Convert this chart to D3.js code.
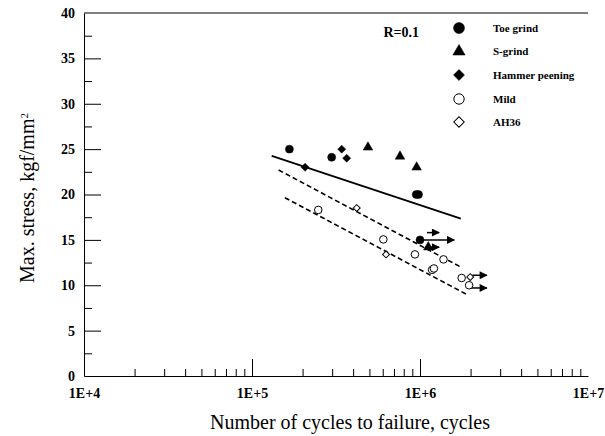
<!DOCTYPE html>
<html>
<head>
<meta charset="utf-8">
<script src="https://cdn.jsdelivr.net/npm/d3@7"></script>
<style>
  body { margin: 0; background: #fff; }
  svg { font-family: "Liberation Serif", "Times New Roman", serif; }
</style>
</head>
<body>
<div id="chart"></div>
<script>
// data
var toeN = [1.67e5, 2.98e5, 9.5e5, 9.8e5, 1.0e6];
var toeS = [25, 24.1, 20, 20, 15];
var sgrindN = [4.9e5, 7.6e5, 9.55e5, 1.12e6];
var sgrindS = [25.2, 24.2, 23, 14.2];
var hammerN = [2.07e5, 3.42e5, 3.66e5];
var hammerS = [23, 25, 24];
var mildN = [2.48e5, 6.05e5, 9.33e5, 1.38e6, 1.18e6, 1.21e6, 1.77e6, 1.96e6];
var mildS = [18.3, 15.05, 13.4, 12.85, 11.7, 11.85, 10.8, 10.0];
var ah36N = [4.2e5, 6.28e5, 1.99e6];
var ah36S = [18.5, 13.4, 10.9];

// run-outs: start cycles, end cycles, stress
var runStart = [1.02e6, 1.1e6, 1.1e6, 2.05e6, 2.0e6];
var runEnd = [1.6e6, 1.3e6, 1.3e6, 2.5e6, 2.5e6];
var runS = [15, 15.8, 14.2, 11.1, 9.7];

// S-N lines
var solidN = [1.31e5, 1.75e6], solidS = [24.25, 17.35];
var dash1N = [1.44e5, 1.73e6], dash1S = [22.7, 12.05];
var dash2N = [1.57e5, 1.89e6], dash2S = [19.65, 9.0];

var xMajor = [1e4, 1e5, 1e6, 1e7];
var xLabels = ["1E+4", "1E+5", "1E+6", "1E+7"];
var yMajor = [0, 5, 10, 15, 20, 25, 30, 35, 40];

var legendNames = ["Toe grind", "S-grind", "Hammer peening", "Mild", "AH36"];

var svgWidth = 605, svgHeight = 436;
var svg = d3.select("#chart").append("svg")
  .attr("width", svgWidth)
  .attr("height", svgHeight);

var x = d3.scaleLog().domain([1e4, 1e7]).range([84, 588]);
var y = d3.scaleLinear().domain([0, 40]).range([376, 13]);

// minor ticks
var xMinor = [];
[1e4, 1e5, 1e6].forEach(function(d) {
  for (var k = 2; k <= 9; k++) xMinor.push(d * k);
});
var yMinor = d3.range(2.5, 40, 5);

function labelStyle(g) {
  g.attr("font-family", null).attr("font-size", null);
  g.selectAll("text")
    .style("font-family", "'Liberation Serif', serif")
    .style("font-weight", "bold")
    .style("font-size", "14px")
    .attr("fill", "#000");
}

svg.append("g")
  .attr("transform", "translate(0,376)")
  .call(d3.axisBottom(x).tickValues(xMinor).tickFormat("").tickSize(-7).tickSizeOuter(0))
  .call(g => g.select(".domain").remove());
svg.append("g")
  .attr("transform", "translate(0,376)")
  .call(d3.axisBottom(x).tickValues(xMajor.slice(1, 3)).tickFormat("").tickSize(-17).tickSizeOuter(0))
  .call(g => g.select(".domain").remove());
svg.append("g")
  .attr("transform", "translate(0,376)")
  .call(d3.axisBottom(x).tickValues(xMajor).tickFormat((d, i) => xLabels[i]).tickSize(0).tickPadding(12).tickSizeOuter(0))
  .call(labelStyle);

svg.append("g")
  .attr("transform", "translate(84,0)")
  .call(d3.axisLeft(y).tickValues(yMinor).tickFormat("").tickSize(-8).tickSizeOuter(0))
  .call(g => g.select(".domain").remove());
svg.append("g")
  .attr("transform", "translate(84,0)")
  .call(d3.axisLeft(y).tickValues(yMajor.slice(1, 8)).tickFormat("").tickSize(-17).tickSizeOuter(0))
  .call(g => g.select(".domain").remove());
svg.append("g")
  .attr("transform", "translate(84,0)")
  .call(d3.axisLeft(y).tickValues(yMajor).tickSize(0).tickPadding(9).tickSizeOuter(0))
  .call(labelStyle);

// top frame line
svg.append("line")
  .attr("x1", 84).attr("x2", 588)
  .attr("y1", y(40)).attr("y2", y(40))
  .attr("stroke", "#000");

// axis titles
svg.append("text")
  .attr("x", 350).attr("y", 429)
  .attr("text-anchor", "middle")
  .style("font-size", "20px")
  .text("Number of cycles to failure, cycles");

var yt = svg.append("text")
  .attr("transform", "translate(34,198) rotate(-90)")
  .attr("text-anchor", "middle")
  .style("font-size", "20px");
yt.append("tspan").text("Max. stress, kgf/mm");
yt.append("tspan").attr("dy", "-0.55em").style("font-size", "11px").text("2");

svg.append("text")
  .attr("x", 419).attr("y", 37)
  .attr("text-anchor", "end")
  .style("font-size", "14px")
  .style("font-weight", "bold")
  .text("R=0.1");

// lines
var line = d3.line().x(d => x(d[0])).y(d => y(d[1]));
svg.append("path").datum(d3.zip(solidN, solidS))
  .attr("d", line).attr("fill", "none").attr("stroke", "#000").attr("stroke-width", 1.8);
[[dash1N, dash1S], [dash2N, dash2S]].forEach(function(p) {
  svg.append("path").datum(d3.zip(p[0], p[1]))
    .attr("d", line).attr("fill", "none").attr("stroke", "#000")
    .attr("stroke-width", 1.6).attr("stroke-dasharray", "5,3");
});

// arrowhead
svg.append("defs").append("marker")
  .attr("id", "arrow")
  .attr("viewBox", "0 0 10 10")
  .attr("refX", 9).attr("refY", 5)
  .attr("markerWidth", 11).attr("markerHeight", 8)
  .attr("markerUnits", "userSpaceOnUse")
  .attr("orient", "auto")
  .append("path").attr("d", "M0,0L10,5L0,10Z").attr("fill", "#000");

svg.selectAll(".runout")
  .data(d3.range(runS.length))
  .enter().append("line")
  .attr("x1", i => x(runStart[i]))
  .attr("x2", i => x(runEnd[i]))
  .attr("y1", i => y(runS[i]))
  .attr("y2", i => y(runS[i]))
  .attr("stroke", "#000").attr("stroke-width", 1.5)
  .attr("marker-end", "url(#arrow)");

// points; diamonds are squares turned 45 degrees
function drawPts(ns, ss, sym, size, fill) {
  var rot = sym === "diamond" ? 45 : 0;
  var type = sym === "diamond" ? d3.symbolSquare : sym;
  svg.append("g").selectAll("path")
    .data(d3.zip(ns, ss))
    .enter().append("path")
    .attr("transform", d => `translate(${x(d[0])},${y(d[1])}) rotate(${rot})`)
    .attr("d", d3.symbol().type(type).size(size))
    .attr("fill", fill ? "#000" : "#fff")
    .attr("stroke", "#000")
    .attr("stroke-width", fill ? 0.5 : 1);
}
drawPts(mildN, mildS, d3.symbolCircle, 45, false);
drawPts(ah36N, ah36S, "diamond", 24, false);
drawPts(hammerN, hammerS, "diamond", 32, true);
drawPts(sgrindN, sgrindS, d3.symbolTriangle, 40, true);
drawPts(toeN, toeS, d3.symbolCircle, 50, true);

// legend
var legSym = [d3.symbolCircle, d3.symbolTriangle, "diamond", d3.symbolCircle, "diamond"];
var legFill = [true, true, true, false, false];
var legSize = [95, 65, 60, 85, 55];
var legY = [28, 51.5, 75, 99, 122];
var leg = svg.append("g");
leg.selectAll("path")
  .data(legendNames)
  .enter().append("path")
  .attr("transform", (d, i) => `translate(459,${legY[i]}) rotate(${legSym[i] === "diamond" ? 45 : 0})`)
  .attr("d", (d, i) => d3.symbol().type(legSym[i] === "diamond" ? d3.symbolSquare : legSym[i]).size(legSize[i])())
  .attr("fill", (d, i) => legFill[i] ? "#000" : "#fff")
  .attr("stroke", "#000")
  .attr("stroke-width", (d, i) => legFill[i] ? 0.5 : 1);
leg.selectAll("text")
  .data(legendNames)
  .enter().append("text")
  .attr("x", 493)
  .attr("y", (d, i) => legY[i])
  .attr("dy", "0.35em")
  .style("font-size", "11px")
  .style("font-weight", "bold")
  .text(d => d);
</script>
</body>
</html>
